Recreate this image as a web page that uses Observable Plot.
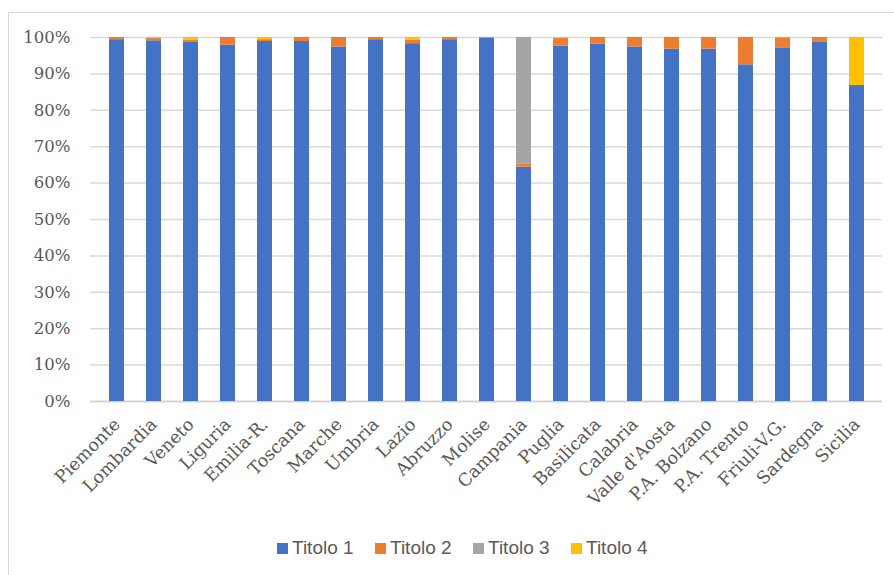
<!DOCTYPE html>
<html>
<head>
<meta charset="utf-8">
<script src="https://cdn.jsdelivr.net/npm/d3@7"></script>
<script src="https://cdn.jsdelivr.net/npm/@observablehq/plot@0.6"></script>
<style>
  body { margin: 0; background: #fff; width: 894px; height: 575px; overflow: hidden; position: relative; }
  #frame { position: absolute; left: 8px; top: 12px; width: 900px; height: 600px; border: 1.5px solid #d9d9d9; box-sizing: border-box; }
  #chart { position: absolute; left: 0; top: 0; }
  #legend { position: absolute; left: 277px; top: 537px; display: flex; font-family: "Liberation Sans", Arial, sans-serif; font-size: 19px; color: #595959; }
  .item { display: flex; align-items: center; width: 98px; }
  .sw { width: 11px; height: 11px; margin-right: 4px; }
</style>
</head>
<body>
<div id="frame"></div>
<div id="chart"></div>
<div id="legend"></div>
<script>
const regions = ["Piemonte","Lombardia","Veneto","Liguria","Emilia-R.","Toscana","Marche","Umbria","Lazio","Abruzzo","Molise","Campania","Puglia","Basilicata","Calabria","Valle d'Aosta","P.A. Bolzano","P.A. Trento","Friuli-V.G.","Sardegna","Sicilia"];
const series = ["Titolo 1","Titolo 2","Titolo 3","Titolo 4"];
const colors = ["#4472C4","#ED7D31","#A5A5A5","#FFC000"];
const titolo1 = [99.4, 99.1, 98.8, 97.9, 98.9, 98.9, 97.4, 99.4, 98.3, 99.4, 99.8, 64.4, 97.6, 98.2, 97.4, 96.8, 96.8, 92.5, 97.0, 98.8, 86.8];
const titolo2 = [0.6, 0.6, 0.5, 2.1, 0.5, 1.1, 2.6, 0.6, 0.9, 0.6, 0.2, 0.9, 2.1, 1.8, 2.6, 3.2, 3.2, 7.5, 2.8, 1.2, 0.0];
const titolo3 = [0, 0, 0, 0, 0, 0, 0, 0, 0, 0, 0, 34.7, 0, 0, 0, 0, 0, 0, 0.2, 0, 0];
const titolo4 = [0, 0.3, 0.7, 0, 0.6, 0, 0, 0, 0.8, 0, 0, 0, 0.3, 0, 0, 0, 0, 0, 0, 0, 13.2];
const yTicks = [0,10,20,30,40,50,60,70,80,90,100];

const cols = [titolo1, titolo2, titolo3, titolo4];
const data = [];
regions.forEach((r, i) => {
  series.forEach((s, j) => data.push({region: r, serie: s, value: cols[j][i]}));
});

const serif = "'DejaVu Serif', serif";
const chart = Plot.plot({
  width: 894,
  height: 520,
  marginLeft: 90,
  marginRight: 12,
  marginTop: 37,
  marginBottom: 119,
  style: {fontFamily: serif, fontSize: "16px", color: "#595959", background: "transparent"},
  x: {domain: regions, paddingInner: 0.6, paddingOuter: 0.3, label: null},
  y: {domain: [0, 100], label: null},
  color: {domain: series, range: colors},
  marks: [
    Plot.ruleY(yTicks, {stroke: "#d9d9d9", strokeWidth: 1.5}),
    Plot.ruleY([0], {stroke: "#d0d0d0", strokeWidth: 1.5}),
    Plot.barY(data, {x: "region", y: "value", fill: "serie", order: series}),
    Plot.axisY(yTicks, {tickSize: 0, tickPadding: 20, tickFormat: d => d + "%", fontSize: 16.5, fontFamily: serif, fontVariant: "normal", fill: "#595959"}),
    Plot.axisX({tickSize: 0, tickPadding: 12, dy: 8, tickRotate: -45, fontSize: 17.5, fontFamily: serif, fill: "#595959"})
  ]
});
document.getElementById("chart").appendChild(chart);

const legend = document.getElementById("legend");
series.forEach((s, j) => {
  const it = document.createElement("div");
  it.className = "item";
  const sw = document.createElement("span");
  sw.className = "sw";
  sw.style.background = colors[j];
  const t = document.createElement("span");
  t.textContent = s;
  it.appendChild(sw); it.appendChild(t);
  legend.appendChild(it);
});
</script>
</body>
</html>
